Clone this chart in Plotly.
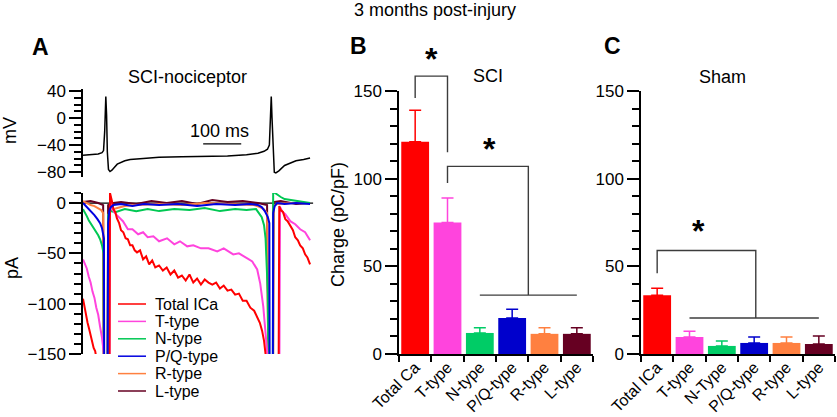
import plotly.graph_objects as go

W, H = 837, 417

# ---------------- data ----------------
# panel A, membrane voltage (ms, mV)
volt_t = [0, 20, 40, 50, 54, 57, 60, 62, 64, 67, 71, 76, 90, 110, 124, 150, 200, 260, 320, 380,
          430, 460, 476, 485, 490, 493, 495, 497, 500, 503, 507, 515, 530, 545, 560, 580, 597]
volt_mv = [-55, -54, -53, -51, -48, -20, 32, 5, -50, -76, -79, -77, -68, -63, -61, -60, -58, -57, -57, -56,
           -54, -52, -49, -46, -40, 0, 32, 0, -55, -80, -81, -78, -70, -66, -63, -61, -59]

# panel A, currents (ms, pA)
cur_names = ["Total ICa", "T-type", "N-type", "P/Q-type", "R-type", "L-type"]
cur_colors = ["#ff0000", "#ff44dd", "#00c853", "#0000e0", "#ff8040", "#660022"]

total_t = [0, 4, 8, 12, 16, 20, 24, 28, 32, 36, 40, 68, 71, 76, 80, 85, 89, 95, 100, 106, 112, 118,
           124, 130, 136, 142, 150, 158, 166, 174, 182, 190, 200, 210, 220, 230, 240, 250, 260, 270,
           280, 290, 300, 310, 320, 330, 340, 350, 360, 370, 380, 390, 400, 410, 420, 430, 440, 450,
           458, 465, 471, 476, 480, 484, 490, 512, 516, 520, 526, 532, 538, 545, 552, 558, 565, 571,
           578, 584, 590, 597]
total_pa = [-95, -104, -110, -119, -125, -132, -137, -144, -147, -156, -165, -400, 10, 2, -6, -9, -15, -20,
            -27, -29, -35, -36, -42, -42, -47, -49, -47, -56, -53, -61, -57, -64, -62, -67, -64, -71, -67,
            -74, -72, -77, -71, -79, -75, -81, -76, -79, -81, -79, -85, -82, -87, -86, -91, -90, -97, -97,
            -104, -107, -113, -119, -127, -137, -150, -170, -400, -400, -3, -7, -9, -16, -18, -23, -27, -34,
            -37, -42, -45, -51, -54, -61]

ttype_t = [0, 5, 10, 15, 20, 25, 30, 35, 40, 45, 50, 55, 58, 68, 71, 76, 82, 89, 97, 105, 118, 130,
           145, 158, 170, 185, 200, 221, 240, 255, 274, 290, 310, 330, 353, 370, 395, 410, 432, 445,
           458, 466, 474, 480, 484, 487, 490, 514, 518, 525, 532, 545, 558, 571, 584, 597]
ttype_pa = [-56, -61, -65, -73, -79, -88, -94, -104, -111, -123, -134, -150, -400, -400, 3, -5, -9, -12,
            -15, -18, -26, -26, -31, -29, -34, -33, -38, -35, -41, -38, -43, -42, -45, -45, -48, -45,
            -51, -50, -55, -58, -66, -80, -103, -125, -142, -160, -400, -400, -4, -9, -11, -18, -21,
            -26, -29, -37]

ntype_t = [0, 5, 10, 15, 20, 25, 30, 35, 40, 45, 50, 54, 57, 63, 66, 72, 85, 110, 140, 170, 200, 240,
           280, 320, 360, 400, 430, 455, 462, 470, 476, 480, 486, 492, 498, 500, 505, 512, 520, 530,
           545, 560, 575, 590, 597]
ntype_pa = [-6, -9, -13, -17, -20, -22, -25, -28, -32, -36, -42, -50, -400, -400, -12, -8, -9, -6, -8,
            -6, -8, -6, -7, -5, -8, -6, -7, -6, -10, -14, -22, -35, -90, -400, -400, 12, 10, 8, 6, 4,
            3, 2, 1, 0, 0]

pq_t = [0, 8, 15, 22, 30, 38, 45, 50, 55, 57, 63, 66, 69, 73, 80, 100, 130, 160, 200, 250, 300, 350,
        400, 440, 460, 470, 478, 486, 490, 492, 498, 500, 504, 510, 530, 560, 597]
pq_pa = [0, -3, -6, -9, -12, -16, -20, -25, -35, -400, -400, -20, -8, -4, -2, -1, -3, -1, -2, -1, -3,
         -1, -2, -1, -2, -4, -8, -14, -20, -400, -400, -10, -3, 0, -1, 0, -1]

rtype_t = [0, 10, 20, 30, 40, 48, 53, 57, 63, 66, 72, 80, 90, 110, 140, 200, 260, 320, 380, 450, 465,
           475, 484, 492, 498, 501, 510, 550, 597]
rtype_pa = [2, 0, -2, -3, -5, -7, -10, -400, -400, -12, -8, -6, -5, -3, -2, -1, -2, 0, -1, -2, -4, -6,
            -10, -400, -400, -3, -1, 0, 0]

ltype_t = [0, 20, 40, 53, 57, 63, 66, 80, 100, 140, 180, 220, 260, 300, 340, 380, 420, 460, 484, 492,
           498, 501, 520, 560, 597]
ltype_pa = [1, 2, 0, -2, -400, -400, -2, 0, 1, -1, 2, 0, 2, -1, 3, 1, 2, 0, -2, -400, -400, 1, 2, -1, 0]

scale_ms = 100

# panel B (SCI) and C (Sham), charge pC/pF
sci_cats = ["Total Ca", "T-type", "N-type", "P/Q-type", "R-type", "L-type"]
sci_mean = [121, 75, 12, 20.5, 11.5, 11.5]
sci_sem = [18, 14, 3, 5, 3.5, 3.5]
sham_cats = ["Total ICa", "T-type", "N-Type", "P/Q-type", "R-type", "L-type"]
sham_mean = [33.5, 9.7, 4.6, 6.3, 6.3, 5.7]
sham_sem = [4, 3.3, 2.8, 3.4, 3.4, 4.6]
bar_colors = ["#ff0000", "#ff44dd", "#00cc66", "#0000cc", "#ff8040", "#660022"]

# significance brackets: (left cat, right cat, left foot, top, right foot)
sci_brackets = [(0, 1, 146, 158.5, 115), (1, 3.5, 97.5, 107, 33.6)]
sci_bars_line = [(2, 5, 33.6)]
sci_stars = [(0.5, 168), (2.3, 117)]
sham_brackets = [(0, 3.05, 46, 59, 20.5)]
sham_bars_line = [(1, 5, 20.5)]
sham_stars = [(1.55, 70)]

# ---------------- layout helpers ----------------
FONT = "Arial, Liberation Sans, sans-serif"
def px(x):
    return x / W
def py(y):
    return 1 - y / H

domA_x = [px(83), px(315)]
domA1_y = [py(177), py(89)]
domA2_y = [py(354), py(193)]
domB_x = [px(399), px(593)]
domC_x = [px(641), px(835)]
domBar_y = [py(354), py(91)]
bar_range = [0, 150]

def cat_x(i, dom, n=6):
    return dom[0] + (i + 0.5) / n * (dom[1] - dom[0])
def val_y(v, dom=domBar_y, rng=bar_range):
    return dom[0] + (v - rng[0]) / (rng[1] - rng[0]) * (dom[1] - dom[0])

fig = go.Figure()

# voltage
fig.add_trace(go.Scatter(x=volt_t, y=volt_mv, mode="lines", line=dict(color="black", width=1.5),
                         xaxis="x", yaxis="y", showlegend=False))
fig.add_trace(go.Scatter(x=[316, 316 + scale_ms], y=[-38, -38], mode="lines",
                         line=dict(color="black", width=1.2), xaxis="x", yaxis="y", showlegend=False))

# currents
fig.add_trace(go.Scatter(x=[0, 605], y=[0, 0], mode="lines", line=dict(color="black", width=1.2),
                         xaxis="x2", yaxis="y2", showlegend=False))
cur_data = [(total_t, total_pa), (ttype_t, ttype_pa), (ntype_t, ntype_pa),
            (pq_t, pq_pa), (rtype_t, rtype_pa), (ltype_t, ltype_pa)]
for k in [5, 4, 2, 1, 0, 3]:
    t, v = cur_data[k]
    fig.add_trace(go.Scatter(x=t, y=v, mode="lines", name=cur_names[k],
                             line=dict(color=cur_colors[k], width=2),
                             xaxis="x2", yaxis="y2", showlegend=False))

# bars
for cats, mean, sem, xa, ya in [(sci_cats, sci_mean, sci_sem, "x3", "y3"),
                                (sham_cats, sham_mean, sham_sem, "x4", "y4")]:
    for c, m, s, col in zip(cats, mean, sem, bar_colors):
        fig.add_trace(go.Bar(x=[c], y=[m], marker=dict(color=col, line=dict(width=0)), width=0.86,
                             error_y=dict(type="data", symmetric=False, array=[s], arrayminus=[0],
                                          color=col, thickness=1.5, width=6),
                             xaxis=xa, yaxis=ya, showlegend=False))

shapes = []
annos = []
BR = dict(color="#3c3c3c", width=1.4)
for dom, brs, lines, stars in [(domB_x, sci_brackets, sci_bars_line, sci_stars),
                               (domC_x, sham_brackets, sham_bars_line, sham_stars)]:
    for (a, b, f1, top, f2) in brs:
        xa, xb = cat_x(a, dom), cat_x(b, dom)
        shapes.append(dict(type="path", xref="paper", yref="paper", line=BR,
                           path=f"M{xa},{val_y(f1)} L{xa},{val_y(top)} L{xb},{val_y(top)} L{xb},{val_y(f2)}"))
    for (a, b, lv) in lines:
        shapes.append(dict(type="line", xref="paper", yref="paper", line=BR,
                           x0=cat_x(a, dom), x1=cat_x(b, dom), y0=val_y(lv), y1=val_y(lv)))
    for (sx, sy) in stars:
        annos.append(dict(text="<b>*</b>", x=cat_x(sx, dom), y=val_y(sy), xref="paper", yref="paper",
                          showarrow=False, font=dict(size=32, color="black"), yanchor="middle"))

# legend for currents
for i, (nm, col) in enumerate(zip(cur_names, cur_colors)):
    yy = py(304 + i * 17.4)
    shapes.append(dict(type="line", xref="paper", yref="paper", x0=px(118), x1=px(146), y0=yy, y1=yy,
                       line=dict(color=col, width=1.5)))
    annos.append(dict(text=nm, x=px(153), y=yy, xref="paper", yref="paper", showarrow=False,
                      xanchor="left", yanchor="middle", font=dict(size=16, color="black")))

def txt(t, x, y, size=18, angle=0, bold=False):
    annos.append(dict(text=f"<b>{t}</b>" if bold else t, x=px(x), y=py(y), xref="paper", yref="paper",
                      showarrow=False, textangle=angle, xanchor="center", yanchor="middle",
                      font=dict(size=size, color="black")))

txt("3 months post-injury", 435, 10)
txt("A", 40, 47, 23, bold=True)
txt("B", 358, 46, 23, bold=True)
txt("C", 612, 46, 23, bold=True)
txt("SCI-nociceptor", 187, 77)
txt("SCI", 488, 76)
txt("Sham", 722, 77)
txt("mV", 10, 131, angle=-90)
txt("pA", 12, 268, angle=-90)
txt("100 ms", 219, 131)
txt("Charge (pC/pF)", 338, 225, angle=-90)

yax = dict(showline=True, linecolor="black", linewidth=1.5, ticks="outside", ticklen=12, tickwidth=1.5,
           tickcolor="black", showgrid=False, zeroline=False, tickfont=dict(size=17, color="black"),
           automargin=False,
           minor=dict(ticks="outside", ticklen=7, dtick=10, tickwidth=1.5, tickcolor="black", showgrid=False))
xbar = dict(type="category", showline=True, linecolor="black", linewidth=1.5, ticks="outside", ticklen=6,
            tickwidth=1.5, tickcolor="black", tickson="boundaries", tickangle=-45, range=[-0.5, 5.5],
            ticklabelstandoff=-4,
            showgrid=False, zeroline=False, tickfont=dict(size=16, color="black"), automargin=False)

fig.update_layout(
    template="none",
    width=W, height=H, margin=dict(l=0, r=0, t=0, b=0),
    paper_bgcolor="white", plot_bgcolor="white",
    font=dict(family=FONT, color="black"),
    barmode="overlay", showlegend=False,
    xaxis=dict(domain=domA_x, range=[0, 610], visible=False, anchor="y", automargin=False),
    yaxis=dict(domain=domA1_y, range=[-87, 43], tickvals=[-80, -40, 0, 40], anchor="x", **yax),
    xaxis2=dict(domain=domA_x, range=[0, 610], visible=False, anchor="y2", automargin=False),
    yaxis2=dict(domain=domA2_y, range=[-150, 10], tickvals=[-150, -100, -50, 0], anchor="x2", **yax),
    xaxis3=dict(domain=domB_x, anchor="y3", **xbar),
    yaxis3=dict(domain=domBar_y, range=bar_range, tickvals=[0, 50, 100, 150], anchor="x3", **yax),
    xaxis4=dict(domain=domC_x, anchor="y4", **xbar),
    yaxis4=dict(domain=domBar_y, range=bar_range, tickvals=[0, 50, 100, 150], anchor="x4", **yax),
    shapes=shapes, annotations=annos,
)

fig.write_html("out.html", config={"displayModeBar": False},
               post_script="document.body.style.margin='0';document.body.style.overflow='hidden';")
